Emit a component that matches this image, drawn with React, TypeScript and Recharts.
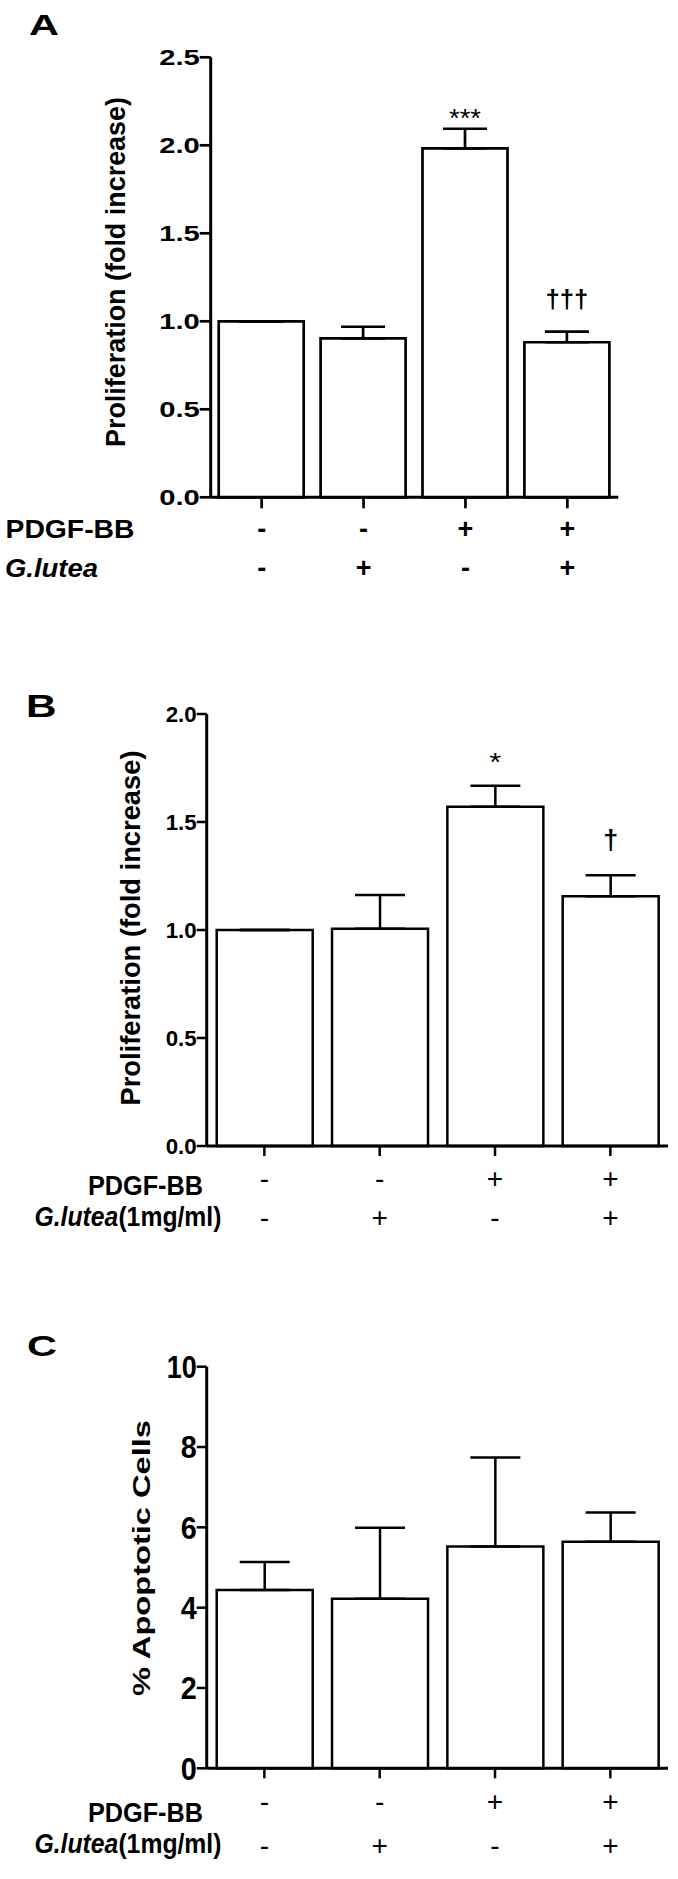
import React from "react"
import { Bar, BarChart, ErrorBar, LabelList, XAxis, YAxis } from "recharts"

// treatment groups, one bar each, and the +/- rows printed under the axis
const groups = ["Control", "G.lutea", "PDGF-BB", "PDGF-BB + G.lutea"]
const pdgfRow = ["-", "-", "+", "+"]
const luteaRow = ["-", "+", "-", "+"]

// A: proliferation (fold increase), mean and SEM
const prolifA = [1.0, 0.903, 1.983, 0.881]
const semA = [0, 0.066, 0.111, 0.06]
const marksA = ["", "", "***", "†††"]
const ticksA = [0, 0.5, 1, 1.5, 2, 2.5]

// B: proliferation with G.lutea 1mg/ml
const prolifB = [1.0, 1.006, 1.571, 1.156]
const semB = [0, 0.156, 0.097, 0.097]
const marksB = ["", "", "*", "†"]
const ticksB = [0, 0.5, 1, 1.5, 2]

// C: % apoptotic cells
const apoptC = [4.44, 4.22, 5.52, 5.64]
const semC = [0.7, 1.77, 2.22, 0.73]
const ticksC = [0, 2, 4, 6, 8, 10]

const FONT = "'Liberation Sans', Arial, Helvetica, sans-serif"
const INK = "#000"
const PAGE_W = 678
const PAGE_H = 1879
const Y_AXIS_W = 60
const X_AXIS_H = 80

type MarkStyle = { size: number; weight: string; len: number; gap: number }

interface PanelProps {
  top: number
  height: number
  plot: { left: number; right: number; top: number; bottom: number }
  values: number[]
  errors: number[]
  marks?: string[]
  markStyle?: (MarkStyle | null)[]
  ticks: number[]
  fmt: (v: number) => string
  tickSize: number
  tickFont: number
  tickLen: (s: string) => number
  barSize: number
  capHalf: number
  line: number
  signFont: number
  signWeight: string
  rowY: [number, number]
}

function Panel(p: PanelProps) {
  const data = groups.map((g, i) => ({
    group: g,
    value: p.values[i],
    err: [0, p.errors[i]],
    mark: p.marks ? p.marks[i] : "",
  }))
  const max = p.ticks[p.ticks.length - 1]
  const margin = {
    top: p.plot.top,
    right: PAGE_W - p.plot.right,
    bottom: p.height - p.plot.bottom - X_AXIS_H,
    left: p.plot.left - Y_AXIS_W,
  }

  const yTick = (t: any) => {
    const label = p.fmt(t.payload.value)
    return (
      <text
        x={t.x}
        y={t.y + p.tickFont * 0.358}
        textAnchor="end"
        fontFamily={FONT}
        fontSize={p.tickFont}
        fontWeight="bold"
        fill={INK}
        textLength={p.tickLen(label)}
        lengthAdjust="spacingAndGlyphs"
      >
        {label}
      </text>
    )
  }

  const xTick = (t: any) => {
    const i = t.payload?.index ?? t.index
    const common = {
      x: t.x,
      textAnchor: "middle" as const,
      fontFamily: FONT,
      fontSize: p.signFont,
      fontWeight: p.signWeight,
      fill: INK,
    }
    return (
      <g>
        <text {...common} y={p.rowY[0]}>{pdgfRow[i]}</text>
        <text {...common} y={p.rowY[1]}>{luteaRow[i]}</text>
      </g>
    )
  }

  // significance marks sit a fixed gap above the top of each error bar
  const markLabel = (l: any) => {
    const i = l.index
    const st = p.markStyle ? p.markStyle[i] : null
    if (!l.value || !st) return null
    const vb = l.viewBox && typeof l.viewBox.x === "number" ? l.viewBox : l
    const h = Math.abs(vb.height)
    const barTop = Math.min(vb.y, vb.y + vb.height)
    const errTop = barTop - (p.errors[i] / p.values[i]) * h
    return (
      <text
        x={vb.x + vb.width / 2}
        y={errTop - st.gap}
        textAnchor="middle"
        fontFamily={FONT}
        fontSize={st.size}
        fontWeight={st.weight}
        fill={INK}
        textLength={st.len}
        lengthAdjust="spacingAndGlyphs"
      >
        {l.value}
      </text>
    )
  }

  const axisLine = { stroke: INK, strokeWidth: 3 }
  const tickLine = { stroke: INK, strokeWidth: p.line }

  return (
    <div style={{ position: "absolute", left: 0, top: p.top }}>
      <BarChart width={PAGE_W} height={p.height} data={data} margin={margin}>
        <XAxis
          dataKey="group"
          interval={0}
          height={X_AXIS_H}
          tickSize={p.tickSize}
          tickMargin={0}
          axisLine={axisLine}
          tickLine={tickLine}
          tick={xTick}
        />
        <YAxis
          type="number"
          domain={[0, max]}
          ticks={p.ticks}
          interval={0}
          width={Y_AXIS_W}
          tickSize={p.tickSize}
          tickMargin={0}
          axisLine={axisLine}
          tickLine={tickLine}
          tick={yTick}
        />
        <Bar
          dataKey="value"
          fill="#fff"
          stroke={INK}
          strokeWidth={p.line}
          barSize={p.barSize}
          isAnimationActive={false}
        >
          <ErrorBar
            dataKey="err"
            direction="y"
            width={p.capHalf}
            stroke={INK}
            strokeWidth={p.line}
            isAnimationActive={false}
          />
          {p.marks && <LabelList dataKey="mark" content={markLabel} />}
        </Bar>
      </BarChart>
    </div>
  )
}

// plain text in page coordinates, squeezed/stretched to the measured width
function T(props: {
  x: number
  y: number
  size: number
  len: number
  anchor?: "start" | "middle" | "end"
  italic?: boolean
  weight?: string
  rotate?: boolean
  children: React.ReactNode
}) {
  const { x, y, size, len, anchor = "start", italic, weight = "bold", rotate } = props
  const place = rotate
    ? { x: 0, y: 0, transform: `translate(${x} ${y}) rotate(-90)` }
    : { x, y }
  return (
    <text
      {...place}
      fontFamily={FONT}
      fontSize={size}
      fontWeight={weight}
      fontStyle={italic ? "italic" : "normal"}
      textAnchor={anchor}
      fill={INK}
      textLength={len}
      lengthAdjust="spacingAndGlyphs"
    >
      {props.children}
    </text>
  )
}

export default function App() {
  const one = (v: number) => v.toFixed(1)
  const int = (v: number) => String(v)

  return (
    <div
      style={{
        position: "absolute",
        left: 0,
        top: 0,
        width: PAGE_W,
        height: PAGE_H,
        background: "#fff",
        overflow: "hidden",
      }}
    >
      <Panel
        top={0}
        height={620}
        plot={{ left: 210.7, right: 618.3, top: 57.3, bottom: 497.3 }}
        values={prolifA}
        errors={semA}
        marks={marksA}
        markStyle={[
          null,
          null,
          { size: 26, weight: "normal", len: 32, gap: 2 },
          { size: 25, weight: "bold", len: 43, gap: 24 },
        ]}
        ticks={ticksA}
        fmt={one}
        tickSize={11}
        tickFont={22.5}
        tickLen={() => 40.5}
        barSize={85}
        capHalf={22}
        line={2.7}
        signFont={27}
        signWeight="bold"
        rowY={[538, 577]}
      />
      <Panel
        top={620}
        height={620}
        plot={{ left: 206.7, right: 668, top: 94, bottom: 526 }}
        values={prolifB}
        errors={semB}
        marks={marksB}
        markStyle={[
          null,
          null,
          { size: 26, weight: "normal", len: 12, gap: 15 },
          { size: 27, weight: "bold", len: 15, gap: 26 },
        ]}
        ticks={ticksB}
        fmt={one}
        tickSize={10}
        tickFont={21.5}
        tickLen={() => 31}
        barSize={96}
        capHalf={25}
        line={2.5}
        signFont={28}
        signWeight="normal"
        rowY={[568, 607]}
      />
      <Panel
        top={1240}
        height={639}
        plot={{ left: 206.7, right: 668, top: 126.7, bottom: 528.3 }}
        values={apoptC}
        errors={semC}
        ticks={ticksC}
        fmt={int}
        tickSize={10}
        tickFont={31.5}
        tickLen={(s) => (s.length > 1 ? 30 : 16)}
        barSize={96}
        capHalf={25}
        line={2.5}
        signFont={28}
        signWeight="normal"
        rowY={[571, 615]}
      />

      <svg
        width={PAGE_W}
        height={PAGE_H}
        style={{ position: "absolute", left: 0, top: 0, pointerEvents: "none" }}
      >
        {/* panel letters */}
        <T x={29} y={35} size={30} len={30}>A</T>
        <T x={26} y={717} size={31} len={30.5}>B</T>
        <T x={27} y={1356} size={30} len={30}>C</T>

        {/* y axis titles */}
        <T x={124.5} y={272} size={27} len={350} anchor="middle" rotate>
          Proliferation (fold increase)
        </T>
        <T x={139.5} y={928} size={27} len={355} anchor="middle" rotate>
          Proliferation (fold increase)
        </T>
        <T x={150} y={1558} size={23.5} len={276} anchor="middle" rotate>
          % Apoptotic Cells
        </T>

        {/* row titles under the x axes */}
        <T x={5.5} y={538} size={25} len={129}>PDGF-BB</T>
        <T x={5} y={577} size={25} len={93} italic>G.lutea</T>

        <T x={88} y={1195} size={27} len={115}>PDGF-BB</T>
        <T x={34.5} y={1226} size={27} len={187}>
          <tspan fontStyle="italic">G.lutea</tspan>(1mg/ml)
        </T>

        <T x={88} y={1822} size={27} len={115}>PDGF-BB</T>
        <T x={34.5} y={1853} size={27} len={187}>
          <tspan fontStyle="italic">G.lutea</tspan>(1mg/ml)
        </T>
      </svg>
    </div>
  )
}
